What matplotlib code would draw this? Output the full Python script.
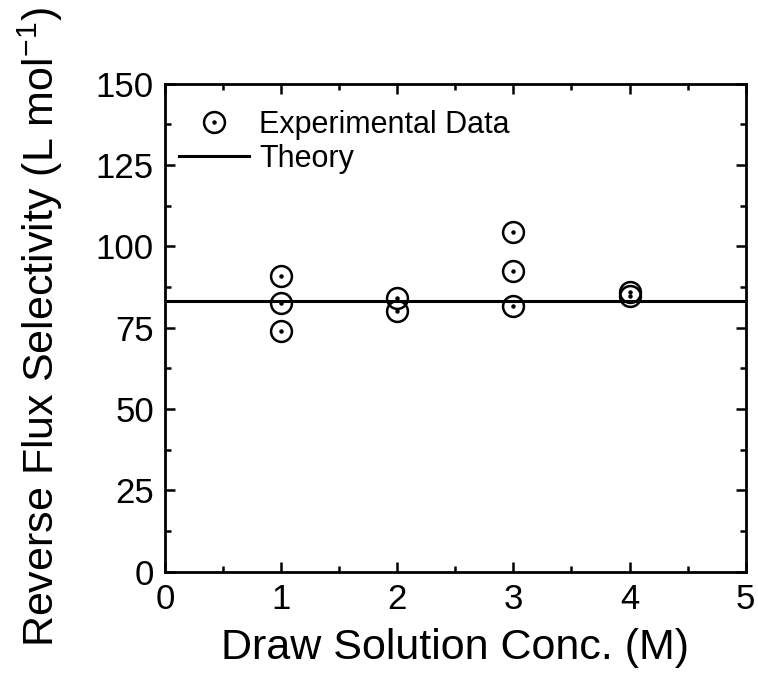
import matplotlib
matplotlib.use("Agg")
import matplotlib.pyplot as plt
from matplotlib.legend_handler import HandlerTuple
from matplotlib.ticker import MultipleLocator

plt.rcParams['font.family'] = ['Liberation Sans', 'DejaVu Sans']
plt.rcParams['mathtext.default'] = 'regular'

conc = [1, 1, 1, 2, 2, 3, 3, 3, 4, 4]
selectivity = [90.8, 82.5, 74.0, 84.0, 80.2, 104.3, 92.5, 81.5, 85.8, 84.8]
theory_value = 83.2

fig = plt.figure(figsize=(7.58, 6.79), dpi=100)
ax = fig.add_axes([0.2177, 0.158, 0.766, 0.719])

exp_ring, = ax.plot(conc, selectivity, linestyle='none', marker='o', markersize=15,
                    markerfacecolor='none', markeredgecolor='black', markeredgewidth=1.8)
exp_dot, = ax.plot(conc, selectivity, linestyle='none', marker='o', markersize=2.2,
                   color='black')
th = ax.axhline(theory_value, color='black', linewidth=2.2)

ax.set_xlim(0, 5)
ax.set_ylim(0, 150)
ax.xaxis.set_major_locator(MultipleLocator(1))
ax.xaxis.set_minor_locator(MultipleLocator(0.5))
ax.yaxis.set_major_locator(MultipleLocator(25))
ax.yaxis.set_minor_locator(MultipleLocator(12.5))
ax.tick_params(which='both', direction='in', top=True, right=True, width=1.8,
               labelsize=25, pad=8)
ax.tick_params(which='major', length=7)
ax.tick_params(which='minor', length=4)
for s in ax.spines.values():
    s.set_linewidth(2.0)

ax.set_xlabel('Draw Solution Conc. (M)', fontsize=31, labelpad=9)
ax.set_ylabel('Reverse Flux Selectivity (L mol$^{-1}$)', fontsize=31, labelpad=22)

ax.legend([(exp_ring, exp_dot), th], ['Experimental Data', 'Theory'],
          handler_map={tuple: HandlerTuple(ndivide=1)},
          loc='upper left', frameon=False, fontsize=22, handlelength=2.3,
          borderaxespad=0.0, borderpad=0.35, labelspacing=0.12, handletextpad=0.33,
          bbox_to_anchor=(0.005, 0.968))

fig.savefig('out.png', dpi=100)
